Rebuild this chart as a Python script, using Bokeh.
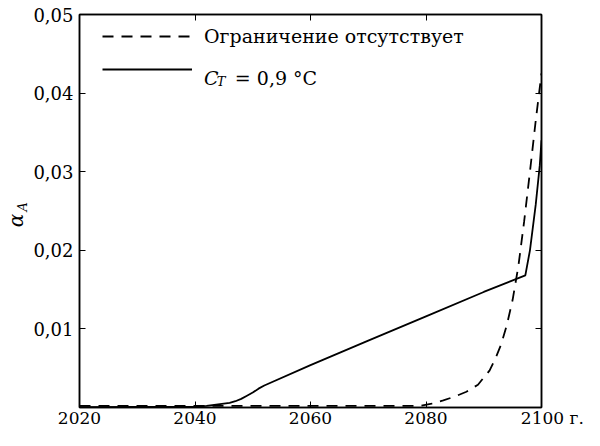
from bokeh.plotting import figure
from bokeh.models import (Range1d, FixedTicker, LinearAxis, Legend, LegendItem, Label)
from bokeh.core.properties import value
from bokeh.embed import file_html
from bokeh.resources import INLINE

# ---- data ----
x_ticks = [2020, 2040, 2060, 2080, 2100]
x_tick_labels = ["2020", "2040", "2060", "2080", "\u00a0\u00a0\u00a0\u00a02100 г."]
y_ticks = [0.01, 0.02, 0.03, 0.04, 0.05]
y_tick_labels = ["0,01", "0,02", "0,03", "0,04", "0,05"]

years_free = [2020, 2079, 2081, 2083, 2085, 2087, 2089, 2091, 2092, 2093,
              2094, 2095, 2096, 2097, 2098, 2099, 2100]
alpha_free = [0.0002, 0.0002, 0.0005, 0.0009, 0.0014, 0.0020, 0.0029, 0.0047,
              0.0062, 0.0080, 0.0105, 0.0137, 0.0180, 0.0237, 0.0300, 0.0365, 0.0425]

years_ct = [2020, 2040, 2042, 2044, 2046, 2047, 2048, 2049, 2050, 2051, 2052,
            2060, 2070, 2080, 2090, 2097.2, 2098, 2099, 2099.7, 2100]
alpha_ct = [0.00005, 0.0001, 0.0002, 0.0004, 0.0006, 0.0008, 0.0011, 0.0015,
            0.0019, 0.0024, 0.0028, 0.0054, 0.0085, 0.0116, 0.0147, 0.0168,
            0.0200, 0.0258, 0.0308, 0.0340]

label_free = "Ограничение отсутствует"
label_ct_main = "C"
label_ct_sub = "T"
label_ct_rest = "= 0,9 °C"
y_label_main = "α\u00a0\u00a0\u00a0"
y_label_sub = "\u00a0\u00a0A"

FONT = "DejaVu Serif"

p = figure(width=584, height=430, x_range=Range1d(2020, 2100), y_range=Range1d(0, 0.05),
           output_backend="svg", toolbar_location=None,
           min_border_left=77, min_border_right=43, min_border_top=14, min_border_bottom=20)
p.xgrid.visible = False
p.ygrid.visible = False
p.outline_line_color = "black"
p.outline_line_width = 1.5
p.background_fill_color = "white"
p.border_fill_color = "white"


def style_axis(ax, ticks, labels, size):
    ax.ticker = FixedTicker(ticks=ticks)
    ax.major_tick_in = 6
    ax.major_tick_out = 0
    ax.minor_tick_in = 0
    ax.minor_tick_out = 0
    ax.major_tick_line_color = "black"
    ax.major_tick_line_width = 1
    ax.axis_line_color = "black"
    ax.axis_line_width = 1.5
    ax.major_label_text_font = FONT
    ax.major_label_text_color = "black"
    ax.major_label_text_font_size = size
    ax.major_label_overrides = {t: s for t, s in zip(ticks, labels)}


xa = p.xaxis[0]
style_axis(xa, x_ticks, x_tick_labels, "17px")
xa.major_label_standoff = 0

ya = p.yaxis[0]
style_axis(ya, y_ticks, y_tick_labels, "18px")
ya.major_label_standoff = 6
ya.axis_label = y_label_sub
ya.axis_label_text_font = FONT
ya.axis_label_text_font_style = "italic"
ya.axis_label_text_font_size = "13px"
ya.axis_label_text_color = "black"
ya.axis_label_standoff = 0

# outer left axis only carries the main part of the y label
ya2 = LinearAxis(ticker=FixedTicker(ticks=[]), axis_line_color=None,
                 major_tick_in=0, major_tick_out=0, minor_tick_in=0, minor_tick_out=0,
                 axis_label=y_label_main, axis_label_text_font=FONT,
                 axis_label_text_font_style="italic", axis_label_text_font_size="20px",
                 axis_label_text_color="black", axis_label_standoff=-15)
p.add_layout(ya2, "left")

top_ax = LinearAxis()
style_axis(top_ax, x_ticks, [""] * len(x_ticks), "1px")
top_ax.major_label_standoff = 0
p.add_layout(top_ax, "above")
right_ax = LinearAxis()
style_axis(right_ax, y_ticks, [""] * len(y_ticks), "1px")
right_ax.major_label_standoff = 0
p.add_layout(right_ax, "right")

r_free = p.line(years_free, alpha_free, line_color="black", line_width=1.8, line_dash="11 8")
r_ct = p.line(years_ct, alpha_ct, line_color="black", line_width=1.8)

legend = Legend(items=[LegendItem(label=value(label_free), renderers=[r_free]),
                       LegendItem(label=value(" "), renderers=[r_ct])],
                location=(23, 326), glyph_width=90, glyph_height=24, label_height=24,
                spacing=9, padding=0, margin=0, label_standoff=12,
                border_line_color=None, background_fill_alpha=0,
                label_text_font=FONT, label_text_font_size="19px", label_text_color="black")
p.add_layout(legend)

# legend text for the solid line, with subscript
p.add_layout(Label(x=2041.55, y=0.04192, text=label_ct_main, text_font=FONT, text_color="black",
                   text_font_style="italic", text_font_size="19px", text_baseline="alphabetic"))
p.add_layout(Label(x=2043.75, y=0.04150, text=label_ct_sub, text_font=FONT, text_color="black",
                   text_font_style="italic", text_font_size="13px", text_baseline="alphabetic"))
p.add_layout(Label(x=2046.9, y=0.04192, text=label_ct_rest, text_font=FONT, text_color="black",
                   text_font_size="19px", text_baseline="alphabetic"))

open("out.html", "w").write(file_html(p, INLINE))
